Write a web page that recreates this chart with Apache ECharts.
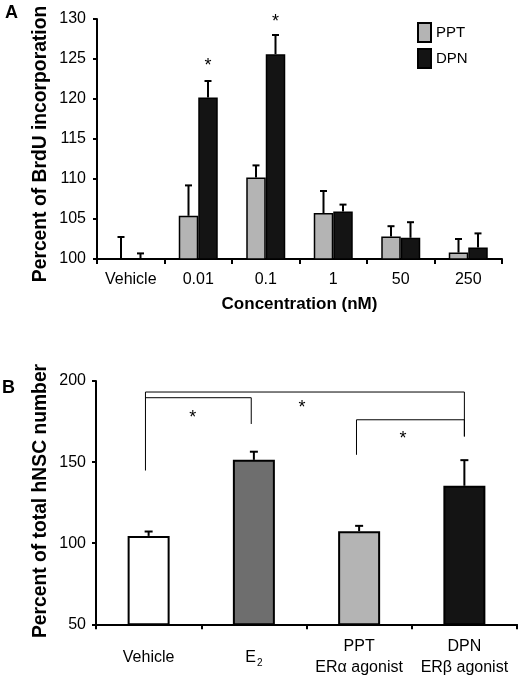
<!DOCTYPE html>
<html><head><meta charset="utf-8">
<script src="https://cdn.jsdelivr.net/npm/echarts@6/dist/echarts.min.js"></script>
<style>html,body{margin:0;padding:0;background:#fff}#c{width:525px;height:681px}</style>
</head><body><div id="c"></div>
<script>
// ---------- Panel A data ----------
const categoriesA = ['Vehicle', '0.01', '0.1', '1', '50', '250'];
const pptValues = [100, 105.4, 110.2, 105.75, 102.8, 100.8];
const pptErrTop = [102.75, 109.2, 111.7, 108.5, 104.1, 102.5];
const dpnValues = [100, 120.2, 125.6, 105.95, 102.65, 101.45];
const dpnErrTop = [100.7, 122.25, 128.0, 106.8, 104.6, 103.2];
const dpnStars = [null, 124.5, 130, null, null, null];
const yTicksA = [100, 105, 110, 115, 120, 125, 130];

// ---------- Panel B data ----------
const categoriesB = ['Vehicle', 'E2', 'PPT\nERα agonist', 'DPN\nERβ agonist'];
const valuesB = [104.5, 151.4, 107.4, 135.4];
const errTopB = [107.2, 156.4, 110.7, 151.2];
const colorsB = ['#ffffff', '#6e6e6e', '#b4b4b4', '#141414'];
const yTicksB = [50, 100, 150, 200];
const bracketOuter = [[-0.03, 144.8], [-0.03, 193.2], [3, 193.2], [3, 165.8]];
const bracketVehE2 = [[-0.03, 189.7], [0.975, 189.7], [0.975, 173.5]];
const bracketPptDpn = [[1.975, 154.5], [1.975, 176.1], [3, 176.1], [3, 165.8]];
const starsB = [[0.42, 178.8], [1.457, 185.4], [2.417, 166.2]];

const FONT = 'Liberation Sans, Arial, sans-serif';
const BAR_W_A = 19.5;
const BAR_W_B = 42;

function errRender(offset, capW) {
  return function (params, api) {
    const i = api.value(0);
    const b = api.coord([i, api.value(1)]);
    const t = api.coord([i, api.value(2)]);
    const x = b[0] + offset;
    return {
      type: 'group',
      children: [
        { type: 'line', shape: { x1: x, y1: b[1], x2: x, y2: t[1] }, style: { stroke: '#000', lineWidth: 2 } },
        { type: 'line', shape: { x1: x - capW / 2, y1: t[1], x2: x + capW / 2, y2: t[1] }, style: { stroke: '#000', lineWidth: 2 } }
      ]
    };
  };
}
function starRender(offset) {
  return function (params, api) {
    const p = api.coord([api.value(0), api.value(1)]);
    return {
      type: 'text',
      style: { text: '*', x: p[0] + offset, y: p[1] + 3, align: 'center', verticalAlign: 'middle', font: '18px ' + FONT, fill: '#000' }
    };
  };
}

const chart = echarts.init(document.getElementById('c'), null, { renderer: 'canvas' });
const axisLineStyle = { color: '#000', width: 2 };

const option = {
  animation: false,
  backgroundColor: '#fff',
  textStyle: { fontFamily: FONT, color: '#000' },
  graphic: [
    { type: 'text', left: 5, top: 4, style: { text: 'A', font: 'bold 18px ' + FONT, fill: '#000' } },
    { type: 'text', left: 2, top: 379, style: { text: 'B', font: 'bold 18px ' + FONT, fill: '#000' } },
    { type: 'text', x: 41, y: 144, rotation: Math.PI / 2,
      style: { text: 'Percent of BrdU incorporation', align: 'center', verticalAlign: 'middle', font: 'bold 19.3px ' + FONT, fill: '#000' } },
    { type: 'text', x: 41, y: 501, rotation: Math.PI / 2,
      style: { text: 'Percent of total hNSC number', align: 'center', verticalAlign: 'middle', font: 'bold 19.3px ' + FONT, fill: '#000' } }
  ],
  legend: {
    data: ['PPT', 'DPN'],
    orient: 'vertical',
    left: 417,
    top: 22,
    padding: 0,
    itemWidth: 13,
    itemHeight: 19,
    itemGap: 5,
    icon: 'rect',
    textStyle: { fontSize: 15, color: '#000', fontFamily: FONT }
  },
  grid: [
    { left: 97, top: 19, right: 23, height: 240, containLabel: false, outerBoundsMode: 'none' },
    { left: 96, top: 381, right: 8, height: 243.3, containLabel: false, outerBoundsMode: 'none' }
  ],
  xAxis: [
    {
      type: 'category', gridIndex: 0, data: categoriesA,
      axisLine: { onZero: false, lineStyle: axisLineStyle },
      axisTick: { show: true, length: 5, lineStyle: { color: '#000', width: 2 } },
      axisLabel: { fontSize: 16, color: '#000', margin: 13, fontFamily: FONT, interval: 0 },
      name: 'Concentration (nM)', nameLocation: 'middle', nameGap: 37,
      nameTextStyle: { fontSize: 17, fontWeight: 'bold', color: '#000', fontFamily: FONT }
    },
    {
      type: 'category', gridIndex: 1, data: categoriesB,
      axisLine: { onZero: false, lineStyle: axisLineStyle },
      axisTick: { show: true, length: 5, interval: 0, lineStyle: { color: '#000', width: 2 } },
      axisLabel: {
        interval: 0,
        fontSize: 16, color: '#000', margin: 33, verticalAlign: 'middle', lineHeight: 21, fontFamily: FONT,
        formatter: function (v) { return v === 'E2' ? '{n|E}{s|2}' : v; },
        rich: {
          n: { fontSize: 16, fontFamily: FONT, color: '#000' },
          s: { fontSize: 10, fontFamily: FONT, color: '#000', verticalAlign: 'bottom', padding: [9, 0, 0, 1] }
        }
      }
    },
    { type: 'value', gridIndex: 1, min: -0.5, max: 3.5, show: false, axisLine: { onZero: false } }
  ],
  yAxis: [
    {
      type: 'value', gridIndex: 0, min: yTicksA[0], max: yTicksA[yTicksA.length - 1], interval: yTicksA[1] - yTicksA[0],
      axisLine: { show: true, onZero: false, lineStyle: axisLineStyle },
      axisTick: { show: true, length: 4, lineStyle: { color: '#000', width: 2 } },
      splitLine: { show: false },
      axisLabel: { fontSize: 16, color: '#000', margin: 11, fontFamily: FONT }
    },
    {
      type: 'value', gridIndex: 1, min: yTicksB[0], max: yTicksB[yTicksB.length - 1], interval: yTicksB[1] - yTicksB[0],
      axisLine: { show: true, onZero: false, lineStyle: axisLineStyle },
      axisTick: { show: true, length: 4, lineStyle: { color: '#000', width: 2 } },
      splitLine: { show: false },
      axisLabel: { fontSize: 16, color: '#000', margin: 10, fontFamily: FONT }
    }
  ],
  series: [
    {
      name: 'PPT', type: 'bar', xAxisIndex: 0, yAxisIndex: 0, data: pptValues,
      barWidth: BAR_W_A, barGap: '0%',
      itemStyle: { color: '#b4b4b4', borderColor: '#000', borderWidth: 1.5 }
    },
    {
      name: 'DPN', type: 'bar', xAxisIndex: 0, yAxisIndex: 0, data: dpnValues,
      barWidth: BAR_W_A, barGap: '0%',
      itemStyle: { color: '#141414', borderColor: '#000', borderWidth: 1.5 }
    },
    {
      type: 'custom', xAxisIndex: 0, yAxisIndex: 0, silent: true,
      renderItem: errRender(-BAR_W_A / 2, 7),
      data: pptValues.map((v, i) => [i, v, pptErrTop[i]]), z: 5
    },
    {
      type: 'custom', xAxisIndex: 0, yAxisIndex: 0, silent: true,
      renderItem: errRender(BAR_W_A / 2, 7),
      data: dpnValues.map((v, i) => [i, v, dpnErrTop[i]]), z: 5
    },
    {
      type: 'custom', xAxisIndex: 0, yAxisIndex: 0, silent: true,
      renderItem: starRender(BAR_W_A / 2),
      data: dpnStars.map((v, i) => [i, v]).filter(d => d[1] !== null), z: 5
    },
    {
      type: 'bar', xAxisIndex: 1, yAxisIndex: 1, barWidth: BAR_W_B,
      data: valuesB.map((v, i) => ({ value: v, itemStyle: { color: colorsB[i] } })),
      itemStyle: { borderColor: '#000', borderWidth: 2 }
    },
    {
      type: 'custom', xAxisIndex: 2, yAxisIndex: 1, silent: true,
      renderItem: errRender(0, 8),
      data: valuesB.map((v, i) => [i, v, errTopB[i]]), z: 5
    },
    ...[bracketOuter, bracketVehE2, bracketPptDpn].map(d => ({
      type: 'line', xAxisIndex: 2, yAxisIndex: 1, data: d, symbol: 'none', silent: true,
      lineStyle: { color: '#000', width: 1 }
    })),
    {
      type: 'custom', xAxisIndex: 2, yAxisIndex: 1, silent: true,
      renderItem: starRender(0),
      data: starsB
    }
  ]
};
chart.setOption(option);
</script>
</body></html>
